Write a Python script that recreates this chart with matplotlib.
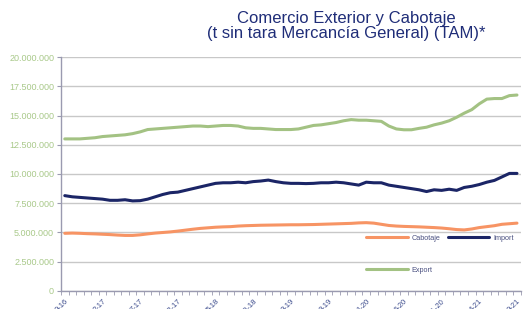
import matplotlib
matplotlib.use("Agg")
import matplotlib.pyplot as plt
from matplotlib.ticker import FuncFormatter, MultipleLocator, FixedLocator
import numpy as np

plt.rcParams['font.family'] = ['Liberation Sans', 'DejaVu Sans']

months = [f"{m}-{y}" for y in range(16, 22) for m in range(1, 13)]
months = months[months.index("9-16"):months.index("9-21") + 1]

export = [13.0, 13.0, 13.0, 13.05, 13.1, 13.2, 13.25, 13.3, 13.35, 13.45,
          13.6, 13.8, 13.85, 13.9, 13.95, 14.0, 14.05, 14.1, 14.1, 14.05,
          14.1, 14.15, 14.15, 14.1, 13.95, 13.9, 13.9, 13.85, 13.8, 13.8,
          13.8, 13.85, 14.0, 14.15, 14.2, 14.3, 14.4, 14.55, 14.65, 14.6,
          14.6, 14.55, 14.5, 14.1, 13.85, 13.78, 13.78, 13.9, 14.0, 14.2,
          14.35, 14.55, 14.85, 15.2, 15.5, 16.0, 16.4, 16.45, 16.45, 16.7,
          16.75]
imports = [8.15, 8.05, 8.0, 7.95, 7.9, 7.85, 7.75, 7.75, 7.8, 7.7,
           7.72, 7.85, 8.05, 8.25, 8.4, 8.45, 8.6, 8.75, 8.9, 9.05,
           9.2, 9.25, 9.25, 9.3, 9.25, 9.35, 9.4, 9.48, 9.35, 9.25,
           9.2, 9.2, 9.18, 9.2, 9.25, 9.25, 9.3, 9.25, 9.15, 9.05,
           9.3, 9.25, 9.25, 9.05, 8.95, 8.85, 8.75, 8.65, 8.5, 8.65,
           8.6, 8.7, 8.6, 8.85, 8.95, 9.1, 9.3, 9.45, 9.75, 10.05,
           10.05]
cabotaje = [4.93, 4.95, 4.93, 4.9, 4.88, 4.85, 4.82, 4.78, 4.75, 4.75,
            4.8, 4.88, 4.95, 5.0, 5.05, 5.12, 5.2, 5.28, 5.35, 5.4,
            5.45, 5.48, 5.5, 5.55, 5.58, 5.6, 5.62, 5.63, 5.64, 5.65,
            5.66, 5.66, 5.67, 5.68, 5.7, 5.72, 5.74, 5.76, 5.78, 5.82,
            5.84, 5.8, 5.7, 5.6, 5.55, 5.52, 5.5, 5.48, 5.45, 5.42,
            5.38, 5.32, 5.25, 5.22, 5.3, 5.42, 5.5, 5.58, 5.7, 5.75,
            5.8]

title = "Comercio Exterior y Cabotaje\n(t sin tara Mercancía General) (TAM)*"

fig = plt.figure(figsize=(5.26, 3.09), dpi=100)
ax = fig.add_axes([0.116, 0.0583, 0.874, 0.7572])

x = np.arange(len(months))
scale = 1e6
l_cab, = ax.plot(x, np.array(cabotaje) * scale, color='#F79464', lw=2.2,
                 solid_capstyle='round', label='Cabotaje')
l_imp, = ax.plot(x, np.array(imports) * scale, color='#1B2566', lw=2.2,
                 solid_capstyle='round', label='Import')
l_exp, = ax.plot(x, np.array(export) * scale, color='#A3C283', lw=2.2,
                 solid_capstyle='round', label='Export')

ax.set_xlim(-0.5, len(months) - 0.5)
ax.set_ylim(0, 20e6)
ax.yaxis.set_major_locator(MultipleLocator(2.5e6))
ax.yaxis.set_major_formatter(FuncFormatter(lambda v, p: f"{int(v):,}".replace(",", ".")))
ax.grid(axis='y', color='#C8C8C8', lw=1.0)
ax.set_axisbelow(True)

lab_idx = list(range(0, len(months), 5))
ax.xaxis.set_major_locator(FixedLocator(lab_idx))
ax.set_xticklabels([months[i] for i in lab_idx], rotation=45, ha='right',
                   rotation_mode='anchor', fontsize=5.5, color='#3A4A8C')
ax.xaxis.set_minor_locator(FixedLocator(np.arange(-0.5, len(months), 1.0)))
ax.tick_params(axis='x', which='major', length=0, pad=5)
ax.tick_params(axis='x', which='minor', length=3, color='#9A9AB0', direction='out')
ax.tick_params(axis='y', length=3, color='#9A9AB0', labelsize=6.5,
               labelcolor='#A9C98A', pad=2)

for s in ['top', 'right']:
    ax.spines[s].set_visible(False)
for s in ['left', 'bottom']:
    ax.spines[s].set_color('#9A9AB0')
    ax.spines[s].set_linewidth(1.0)

leg = ax.legend(handles=[l_cab, l_exp, l_imp], labels=['Cabotaje', 'Export', 'Import'],
                ncol=2, loc='lower left', bbox_to_anchor=(0.65, 0.045),
                frameon=False, fontsize=5.2, labelspacing=3.5, handlelength=5.7,
                handletextpad=0.55, columnspacing=1.1, labelcolor='#4A5080')

fig.text(0.658, 0.915, title, ha='center', va='center', fontsize=12,
         color='#1F2D78', linespacing=1.0)

fig.savefig("out.png", dpi=100)
